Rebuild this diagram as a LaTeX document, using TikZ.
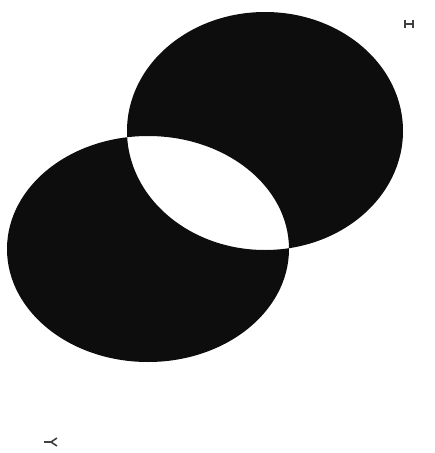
\documentclass[tikz,border=0pt]{standalone}
\begin{document}
\begin{tikzpicture}[
    x=0.02cm, y=-0.02cm,
    setfill/.style={fill=black!95, even odd rule},
    tick/.style={line width=0.9pt, draw=black!75}
  ]
  \useasboundingbox (0,0) rectangle (434,453);
  % two sets, overlap left white
  \fill[setfill] (265,131) ellipse [x radius=138, y radius=119]
                 (148,249) ellipse [x radius=141, y radius=113];
  % corner marks
  \coordinate (mb1) at (405,24);
  \coordinate (mb2) at (413,24);
  \draw[tick] (mb1) -- (mb2);
  \draw[tick] ([yshift=-2.5]mb1) -- ([yshift=2.5]mb1);
  \draw[tick] ([yshift=-2.5]mb2) -- ([yshift=2.5]mb2);
  \coordinate (ma) at (51,442);
  \draw[tick] (44,442) -- (ma);
  \draw[tick] (57,438) -- (ma) -- (57,446);
\end{tikzpicture}
\end{document}
